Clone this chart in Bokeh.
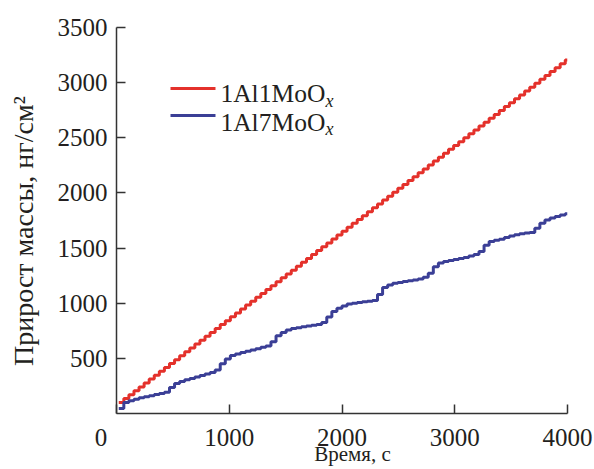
from bokeh.plotting import figure
from bokeh.models import Range1d, FixedTicker, Label, ColumnDataSource
from bokeh.embed import file_html
from bokeh.resources import INLINE

# Sampling grid of the mass-gain record, s
times = list(range(20, 4001, 45))

# Mass gain, ng/cm^2, one value per step
al1_mo = [100, 135, 171, 206, 241, 277, 312, 347, 382, 418,
          453, 488, 524, 559, 594, 630, 665, 700, 735, 771,
          806, 841, 877, 912, 947, 983, 1018, 1053, 1088, 1124,
          1159, 1194, 1230, 1265, 1300, 1336, 1371, 1406, 1441, 1477,
          1512, 1547, 1583, 1618, 1653, 1689, 1724, 1759, 1794, 1830,
          1865, 1900, 1936, 1971, 2006, 2042, 2077, 2112, 2147, 2183,
          2218, 2253, 2289, 2324, 2359, 2395, 2430, 2465, 2500, 2536,
          2571, 2606, 2642, 2677, 2712, 2748, 2783, 2818, 2853, 2889,
          2924, 2959, 2995, 3030, 3065, 3101, 3136, 3171, 3206]

al7_mo = [45, 100, 115, 130, 142, 152, 162, 172, 182, 192,
          235, 272, 290, 305, 318, 332, 345, 358, 372, 395,
          450, 495, 525, 540, 553, 565, 576, 588, 600, 612,
          650, 705, 735, 758, 770, 778, 786, 794, 800, 808,
          825, 875, 925, 955, 975, 992, 1000, 1007, 1013, 1018,
          1024, 1080, 1143, 1165, 1180, 1188, 1196, 1203, 1210, 1220,
          1235, 1272, 1330, 1365, 1378, 1388, 1396, 1405, 1415, 1428,
          1442, 1470, 1525, 1560, 1570, 1580, 1595, 1610, 1620, 1630,
          1636, 1642, 1680, 1725, 1755, 1772, 1787, 1800, 1812]

x_ticks = [0, 1000, 2000, 3000, 4000]
y_ticks = [500, 1000, 1500, 2000, 2500, 3000, 3500]

series_names = ["1Al1MoO", "1Al7MoO"]
red = "#e4312b"
blue = "#3b3f96"
ink = "#231f20"
font = "Liberation Serif"
nbsp = "\u00a0"

p = figure(width=594, height=469, output_backend="svg", toolbar_location=None,
           x_range=Range1d(0, 4000), y_range=Range1d(0, 3500),
           min_border_left=116, min_border_right=27,
           min_border_top=27, min_border_bottom=56)
p.outline_line_color = None
p.grid.visible = False
p.background_fill_color = "white"

# extend the last step to the end of the record
t_ext = times + [4000]
src = ColumnDataSource(dict(t=t_ext, a=al1_mo + [al1_mo[-1]], b=al7_mo + [al7_mo[-1]]))
p.step("t", "a", source=src, mode="after", line_color=red, line_width=3)
p.step("t", "b", source=src, mode="after", line_color=blue, line_width=3)

for ax in (p.xaxis[0], p.yaxis[0]):
    ax.axis_line_color = "#333333"
    ax.axis_line_width = 1.5
    ax.major_tick_line_color = "#333333"
    ax.major_tick_line_width = 1.5
    ax.major_tick_in = 9
    ax.major_tick_out = 0
    ax.minor_tick_line_color = None
    ax.major_label_text_font = font
    ax.major_label_text_font_size = "25px"
    ax.major_label_text_color = ink

p.xaxis.ticker = FixedTicker(ticks=x_ticks)
p.yaxis.ticker = FixedTicker(ticks=y_ticks)
# the origin label sits left of the corner; trailing no-break spaces push it over
p.xaxis.major_label_overrides = {0: "0" + nbsp * 5}
p.xaxis.major_label_standoff = 10
p.yaxis.major_label_standoff = 9

# axis titles sit a little off-centre; padding with no-break spaces nudges them
p.xaxis.axis_label = nbsp * 4 + "Время, с"
p.xaxis.axis_label_text_font = font
p.xaxis.axis_label_text_font_style = "normal"
p.xaxis.axis_label_text_font_size = "21px"
p.xaxis.axis_label_text_color = ink
p.xaxis.axis_label_standoff = -12

p.yaxis.axis_label = "Прирост массы, нг/см²" + nbsp * 3
p.yaxis.axis_label_text_font = font
p.yaxis.axis_label_text_font_style = "normal"
p.yaxis.axis_label_text_font_size = "28px"
p.yaxis.axis_label_text_color = ink
p.yaxis.axis_label_standoff = 16

# legend
leg_y = [2947, 2702]
base_y = [2901, 2638]
sub_y = [2838, 2584]
for name, color, ly, by, sy in zip(series_names, [red, blue], leg_y, base_y, sub_y):
    p.line([479, 878], [ly, ly], line_color=color, line_width=3)
    p.add_layout(Label(x=922, y=by, text=name, text_font=font, text_font_size="25.5px",
                       text_color=ink, text_baseline="alphabetic"))
    p.add_layout(Label(x=1854, y=sy, text="x", text_font=font, text_font_size="18px",
                       text_font_style="italic", text_color=ink, text_baseline="alphabetic"))

open("out.html", "w").write(file_html(p, INLINE))
